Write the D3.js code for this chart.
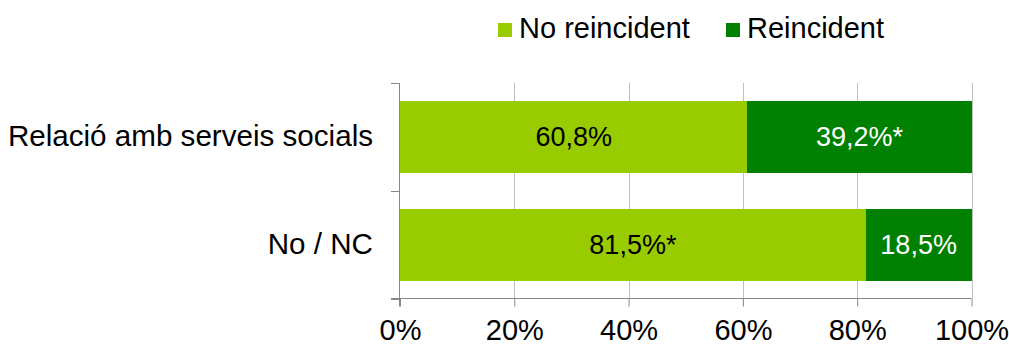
<!DOCTYPE html>
<html>
<head>
<meta charset="utf-8">
<script src="https://cdn.jsdelivr.net/npm/d3@7"></script>
<style>
  body { margin: 0; background: #fff; }
  svg { display: block; font-family: "Liberation Sans", Arial, sans-serif; }
</style>
</head>
<body>
<div id="chart"></div>
<script>
/* DATA */
const categories = ["Relació amb serveis socials", "No / NC"];
const noReincident = [60.8, 81.5];
const reincident = [39.2, 18.5];
const noReincidentLabels = ["60,8%", "81,5%*"];
const reincidentLabels = ["39,2%*", "18,5%"];
const seriesNames = ["No reincident", "Reincident"];
const xTicks = [0, 20, 40, 60, 80, 100];

/* CONSTANTS */
const width = 1009,
  height = 345,
  margin = { top: 83, bottom: 46.5, left: 400, right: 37.5 };
const colors = ["#99cc00", "#008000"];
const labelSize = 27, textSize = 29;

const svg = d3.select("#chart")
  .append("svg")
  .attr("width", width)
  .attr("height", height);

// scales
const xScale = d3.scaleLinear()
  .domain([0, 100])
  .range([margin.left, width - margin.right]);

const yScale = d3.scaleBand()
  .domain(categories)
  .range([margin.top, height - margin.bottom])
  .paddingInner(0.33)
  .paddingOuter(0.165);

const rows = categories.map((c, i) => ({
  cat: c,
  segs: [
    { start: 0, value: noReincident[i], label: noReincidentLabels[i], k: 0 },
    { start: noReincident[i], value: reincident[i], label: reincidentLabels[i], k: 1 }
  ]
}));

// gridlines
svg.append("g")
  .selectAll("line")
  .data(xTicks.filter(d => d > 0))
  .join("line")
  .attr("x1", d => Math.round(xScale(d)) + 0.5)
  .attr("x2", d => Math.round(xScale(d)) + 0.5)
  .attr("y1", margin.top)
  .attr("y2", height - margin.bottom)
  .attr("stroke", "#c0c0c0")
  .attr("stroke-width", 1);

// bars
const rowG = svg.append("g")
  .selectAll("g")
  .data(rows)
  .join("g");

rowG.selectAll("rect")
  .data(d => d.segs.map(s => ({ ...s, cat: d.cat })))
  .join("rect")
  .attr("x", d => xScale(d.start))
  .attr("y", d => yScale(d.cat))
  .attr("width", d => xScale(d.start + d.value) - xScale(d.start))
  .attr("height", yScale.bandwidth())
  .attr("fill", d => colors[d.k])
  .attr("shape-rendering", "crispEdges");

rowG.selectAll("text")
  .data(d => d.segs.map(s => ({ ...s, cat: d.cat })))
  .join("text")
  .attr("x", d => xScale(d.start + d.value / 2))
  .attr("y", d => yScale(d.cat) + yScale.bandwidth() / 2)
  .attr("dy", "0.35em")
  .attr("text-anchor", "middle")
  .attr("font-size", labelSize)
  .attr("fill", d => d.k === 0 ? "#000" : "#fff")
  .text(d => d.label);

// x axis
const xAxis = d3.axisBottom(xScale)
  .tickValues(xTicks)
  .tickFormat(d => d + "%")
  .tickSize(8)
  .tickPadding(13);

const gx = svg.append("g")
  .attr("transform", `translate(0,${height - margin.bottom})`)
  .call(xAxis);
gx.select(".domain").remove();
gx.append("line")
  .attr("x1", margin.left - 9)
  .attr("x2", width - margin.right)
  .attr("stroke", "#868686");
gx.selectAll(".tick line").attr("stroke", "#868686");
gx.selectAll(".tick text")
  .attr("font-size", textSize)
  .attr("font-family", "Liberation Sans, Arial, sans-serif")
  .attr("fill", "#000");

// y axis
const step = yScale.step();
const y0 = yScale.range()[0];
const bounds = d3.range(categories.length + 1).map(i => y0 + i * step);

const gy = svg.append("g");
gy.append("line")
  .attr("x1", margin.left - 0.5)
  .attr("x2", margin.left - 0.5)
  .attr("y1", y0)
  .attr("y2", height - margin.bottom + 8)
  .attr("stroke", "#868686");
gy.selectAll(".ytick")
  .data(bounds)
  .join("line")
  .attr("class", "ytick")
  .attr("x1", margin.left - 9)
  .attr("x2", margin.left)
  .attr("y1", d => Math.round(d) + 0.5)
  .attr("y2", d => Math.round(d) + 0.5)
  .attr("stroke", "#868686");

gy.selectAll(".ylabel")
  .data(categories)
  .join("text")
  .attr("class", "ylabel")
  .attr("x", margin.left - 27)
  .attr("y", d => yScale(d) + yScale.bandwidth() / 2)
  .attr("dy", "0.3em")
  .attr("text-anchor", "end")
  .attr("font-size", 29.6)
  .text(d => d);

// legend
const legendX = [498, 726];
const legend = svg.append("g")
  .selectAll("g")
  .data(seriesNames)
  .join("g")
  .attr("transform", (d, i) => `translate(${legendX[i]},0)`);

legend.append("rect")
  .attr("x", 0)
  .attr("y", 23)
  .attr("width", 14)
  .attr("height", 14)
  .attr("fill", (d, i) => colors[i]);

legend.append("text")
  .attr("x", 21)
  .attr("y", 38)
  .attr("font-size", textSize)
  .text(d => d);
</script>
</body>
</html>
